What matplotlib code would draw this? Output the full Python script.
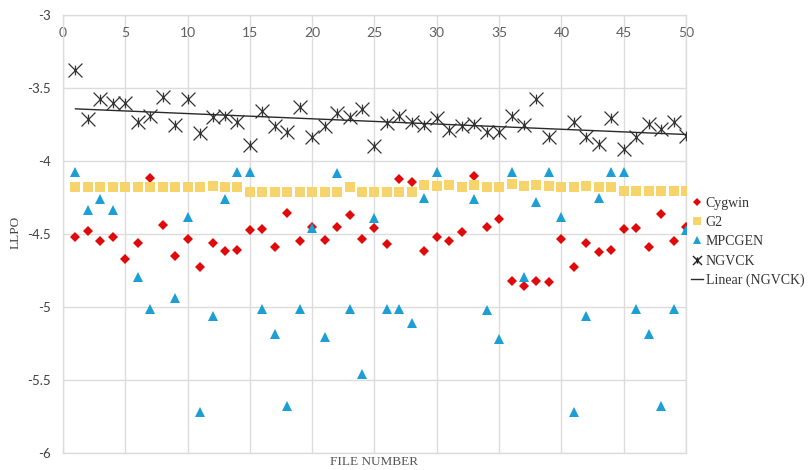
import numpy as np
import matplotlib.pyplot as plt
from matplotlib.path import Path
from matplotlib.lines import Line2D

nan = np.nan

file_number = list(range(1, 51))

cygwin = [-4.52, -4.48, -4.55, -4.52, -4.67, -4.56, -4.115, -4.44, -4.65, -4.535,
          -4.725, -4.565, -4.62, -4.61, -4.475, -4.467, -4.59, -4.36, -4.547, -4.451,
          -4.542, -4.451, -4.371, -4.537, -4.462, -4.57, -4.126, -4.147, -4.615, -4.519,
          -4.547, -4.49, -4.103, -4.451, -4.398, -4.821, -4.855, -4.821, -4.828, -4.537,
          -4.725, -4.565, -4.624, -4.611, -4.469, -4.462, -4.588, -4.364, -4.547, -4.451]

g2 = [-4.181, -4.181, -4.181, -4.181, -4.181, -4.181, -4.181, -4.181, -4.181, -4.181,
      -4.181, -4.172, -4.181, -4.181, -4.21, -4.21, -4.21, -4.21, -4.21, -4.21,
      -4.21, -4.21, -4.177, -4.21, -4.21, -4.21, -4.21, -4.21, -4.167, -4.172,
      -4.165, -4.177, -4.165, -4.177, -4.177, -4.161, -4.174, -4.163, -4.172, -4.181,
      -4.181, -4.17, -4.181, -4.181, -4.206, -4.206, -4.206, -4.206, -4.206, -4.206]

mpcgen = [-4.074, -4.337, -4.261, -4.337, nan, -4.793, -5.017, nan, -4.937, -4.382,
          -5.723, -5.063, -4.261, -4.074, -4.074, -5.017, -5.189, -5.678, -5.017, -4.462,
          -5.209, -4.085, -5.017, -5.461, -4.389, -5.017, -5.017, -5.109, -4.256, -4.074,
          nan, nan, -4.263, -5.02, -5.221, -4.074, -4.793, -4.28, -4.074, -4.382,
          -5.723, -5.063, -4.256, -4.074, -4.074, -5.017, -5.189, -5.678, -5.017, -4.474]

ngvck = [-3.38, -3.715, -3.575, -3.60, -3.605, -3.73, -3.69, -3.565, -3.755, -3.578,
         -3.81, -3.70, -3.69, -3.735, -3.893, -3.658, -3.761, -3.804, -3.633, -3.834,
         -3.761, -3.674, -3.70, -3.646, -3.896, -3.742, -3.694, -3.733, -3.756, -3.704,
         -3.788, -3.761, -3.745, -3.80, -3.802, -3.692, -3.754, -3.578, -3.836, nan,
         -3.731, -3.836, -3.884, -3.708, -3.916, -3.834, -3.749, -3.784, -3.731, -3.83]

x_ticks = list(range(0, 51, 5))
y_ticks = [-6, -5.5, -5, -4.5, -4, -3.5, -3]
y_tick_labels = ["-6", "-5.5", "-5", "-4.5", "-4", "-3.5", "-3"]

# asterisk-style marker: an X with a short vertical bar
star_marker = Path(
    [(-1, -1), (1, 1), (-1, 1), (1, -1), (0, -0.7), (0, 0.7)],
    [Path.MOVETO, Path.LINETO, Path.MOVETO, Path.LINETO, Path.MOVETO, Path.LINETO],
)

RED = "#e10a0a"
GOLD = "#f7d36c"
BLUE = "#1c9fd4"
DARK = "#333333"
GRID = "#dcdcdc"
TICK = "#5f5f5f"

fig = plt.figure(figsize=(8.12, 4.70), dpi=100)
ax = fig.add_axes([63 / 812, 1 - 452.7 / 470, (686 - 63) / 812, (452.7 - 15) / 470])

x = np.array(file_number)
ax.plot(x, cygwin, linestyle="none", marker="D", markersize=5.6, color=RED,
        markeredgewidth=0, zorder=3)
ax.plot(x, g2, linestyle="none", marker="s", markersize=7.8, color=GOLD,
        markeredgewidth=0, zorder=3)
ax.plot(x, mpcgen, linestyle="none", marker="^", markersize=7.8, color=BLUE,
        markeredgewidth=0, zorder=3)
ax.plot(x, ngvck, linestyle="none", marker=star_marker, markersize=10,
        markerfacecolor="none", markeredgecolor=DARK, markeredgewidth=0.9, zorder=4)

# least-squares trend for NGVCK over the files that have a value
ng = np.array(ngvck)
ok = ~np.isnan(ng)
slope, intercept = np.polyfit(x[ok], ng[ok], 1)
xs = np.array([x[ok].min(), x[ok].max()])
ax.plot(xs, slope * xs + intercept, color="#2a2a2a", linewidth=1.0, zorder=5)

ax.set_xlim(0, 50)
ax.set_ylim(-6, -3)
ax.set_xticks(x_ticks)
ax.set_yticks(y_ticks)
ax.set_yticklabels(y_tick_labels)
ax.grid(True, color=GRID, linewidth=1.0, zorder=0)
ax.set_axisbelow(True)
for side in ax.spines.values():
    side.set_color(GRID)
    side.set_linewidth(1.0)

ax.tick_params(axis="x", top=False, bottom=False, labeltop=True, labelbottom=False,
               pad=-17, labelsize=10, labelcolor=TICK, length=0)
ax.tick_params(axis="y", left=False, pad=9, labelsize=9.5, labelcolor="#404040", length=0)
for lab in ax.get_xticklabels() + ax.get_yticklabels():
    lab.set_family("Lato")

fig.text(374 / 812, 1 - 462 / 470, "FILE NUMBER", ha="center", va="center",
         family="Liberation Serif", fontsize=9.5, color="#555555")
fig.text(16 / 812, 1 - 232 / 470, "LLPO", ha="center", va="center", rotation=90,
         family="Liberation Serif", fontsize=9.5, color="#444444")

handles = [
    Line2D([], [], linestyle="none", marker="D", markersize=4.2, color=RED, markeredgewidth=0),
    Line2D([], [], linestyle="none", marker="s", markersize=5.6, color=GOLD, markeredgewidth=0),
    Line2D([], [], linestyle="none", marker="^", markersize=6.0, color=BLUE, markeredgewidth=0),
    Line2D([], [], linestyle="none", marker=star_marker, markersize=6.5, markerfacecolor="none",
           markeredgecolor="#222222", markeredgewidth=1.0),
    Line2D([], [], color="#2a2a2a", linewidth=1.0),
]
labels = ["Cygwin", "G2", "MPCGEN", "NGVCK", "Linear (NGVCK)"]
fig.legend(handles, labels, loc="center left", bbox_to_anchor=(691 / 812, 1 - 242 / 470),
           frameon=False, prop={"family": "Liberation Serif", "size": 10},
           handlelength=0.9, handletextpad=0.15, labelspacing=0.45, borderpad=0,
           borderaxespad=0, labelcolor="#333333")

fig.savefig("out.png", dpi=100)
